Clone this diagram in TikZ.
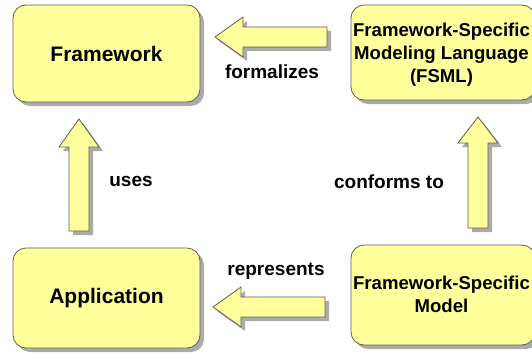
\documentclass[tikz,border=0pt]{standalone}
\usepackage{fontspec}
\setmainfont{Liberation Sans}
\usetikzlibrary{shadows}
\definecolor{boxyellow}{HTML}{FFFF9C}
\definecolor{boxline}{HTML}{5E5E4E}
\definecolor{shadowgray}{HTML}{ABABAB}
\begin{document}
\begin{tikzpicture}[x=1pt,y=-1pt,
  myshadow/.style={drop shadow={shadow xshift=4pt,shadow yshift=-4pt,fill=shadowgray,opacity=1}},
  entity/.style={draw=boxline,line width=0.8pt,fill=boxyellow,rounded corners=13pt,
     myshadow,inner sep=0pt,align=center,font=\fontsize{21}{25}\selectfont\bfseries},
  entity2/.style={entity,font=\fontsize{18.6}{23}\selectfont\bfseries},
  blockarrow/.style={draw=boxline,line width=0.8pt,fill=boxyellow,line join=miter,myshadow},
  rel/.style={font=\fontsize{19}{23}\selectfont\bfseries,inner sep=0pt},
  inbox/.style={font=\fontsize{18.6}{23}\selectfont\bfseries,inner sep=0pt,align=center}]
\useasboundingbox (0,0) rectangle (532,353);
\clip (0,0) rectangle (532,353);
% boxes
\node[entity,minimum width=187pt,minimum height=97pt] (fw) at (106.5,53.5) {Framework};
\node[entity,minimum width=187pt,minimum height=100pt] (app) at (106.5,298) {Application};
\node[entity2,minimum width=184pt,minimum height=95pt] (fsml) at (443,52.5) {};
\node[entity2,minimum width=184pt,minimum height=100pt] (fsm) at (443,295) {};
\node[inbox] (fsmltext) at (441.5,55) {Framework-Specific\\Modeling Language\\(FSML)};
\node[inbox] (fsmtext) at (441.5,294) {Framework-Specific\\Model};
% block arrows
\path[blockarrow] (215,37) -- (243,17) -- (243,27) -- (327,27) -- (327,47) -- (243,47) -- (243,57) -- cycle;
\path[blockarrow] (213,307) -- (241,287) -- (241,297) -- (325,297) -- (325,317) -- (241,317) -- (241,327) -- cycle;
\path[blockarrow] (79,119) -- (99,147) -- (89,147) -- (89,231) -- (69,231) -- (69,147) -- (59,147) -- cycle;
\path[blockarrow] (478,117) -- (498,143) -- (488,143) -- (488,228) -- (468,228) -- (468,143) -- (458,143) -- cycle;
% labels
\node[rel] (lform) at (272,72) {formalizes};
\node[rel] (luses) at (131,181) {uses};
\node[rel] (lconf) at (389,182) {conforms to};
\node[rel] (lrep) at (276,271) {represents};
\end{tikzpicture}
\end{document}
